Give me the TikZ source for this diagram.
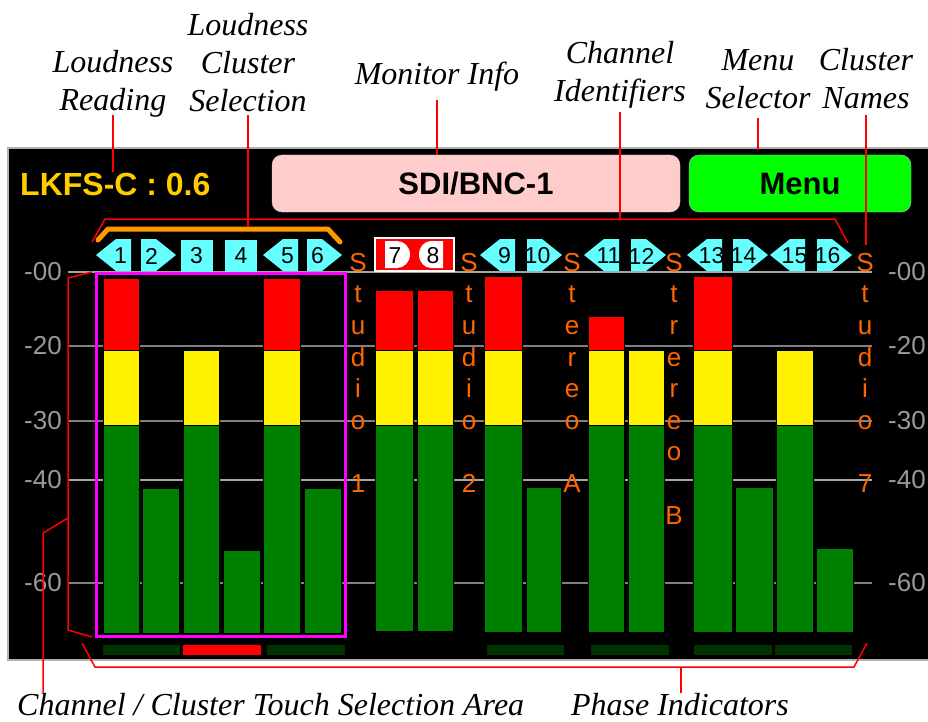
\documentclass[tikz,border=0pt]{standalone}
\usepackage{fontspec}
\setmainfont{Liberation Serif}
\setsansfont{Liberation Sans}
\usetikzlibrary{positioning}
\definecolor{lkfsyellow}{HTML}{FFCC00}
\definecolor{monpink}{HTML}{FFCCCC}
\definecolor{menugreen}{HTML}{00FF00}
\definecolor{chcyan}{HTML}{66FFFF}
\definecolor{clorange}{HTML}{FF6600}
\definecolor{brorange}{HTML}{FF9900}
\definecolor{mgreen}{HTML}{008000}
\definecolor{phgreen}{HTML}{003300}
\definecolor{scalegray}{HTML}{999999}
\definecolor{selmag}{HTML}{FF00FF}
\tikzset{
  note/.style={font=\fontsize{32}{38}\selectfont\itshape, align=center, inner sep=0pt},
  callout/.style={draw=red, line width=1.5pt},
  scr/.style={font=\sffamily\bfseries\fontsize{31}{31}\selectfont, inner sep=0pt},
  chnum/.style={font=\sffamily\fontsize{23}{23}\selectfont, inner sep=0pt},
  chbox/.style={chnum, fill=chcyan, minimum width=32pt, minimum height=32pt},
  clname/.style={text=clorange, font=\sffamily\fontsize{26}{31.6}\selectfont, align=center, inner sep=0pt, anchor=north},
  dbtick/.style={text=scalegray, font=\sffamily\fontsize{26}{26}\selectfont, inner sep=0pt},
  seg/.style={draw=black, line width=0.8pt},
  phase/.style={fill=phgreen},
}
\begin{document}
\begin{tikzpicture}[x=1pt, y=-1pt]
\useasboundingbox (0,0) rectangle (928,722);
% screen
\draw[fill=black, draw=gray!60, line width=1.5pt] (8,148) rectangle (929,660);
% level lines
\foreach \ly/\lc in {272/gray!70, 346/gray, 421/gray, 480/gray!70, 583/gray}
  \draw[\lc, line width=1.5pt] (68,\ly) -- (872,\ly);
\foreach \ly/\db in {272/-00, 346/-20, 421/-30, 480/-40, 583/-60} {
  \node[dbtick, anchor=east] (dbl\db) at (62,\ly) {\db};
  \node[dbtick, anchor=west] (dbr\db) at (888,\ly) {\db};
}
% meter bars
\foreach \xa/\xb/\yt/\yb in {103/139/278/633, 142/179/488/633, 183/219/350/633, 223/260/550/633,
    263/300/278/633, 304/341/488/633, 375/413/290/631, 417/453/290/631,
    484/522/276/632, 526/561/487/632, 588/624/316/632, 628/664/350/632,
    693/732/276/632, 735/773/487/632, 776/813/350/632, 816/853/548/632} {
  \ifdim\yt pt<350pt \draw[seg, fill=red] (\xa,\yt) rectangle (\xb,350); \fi
  \pgfmathsetmacro\ymid{max(\yt,350)}
  \ifdim\ymid pt<425pt \draw[seg, fill=yellow] (\xa,\ymid) rectangle (\xb,425); \fi
  \pgfmathsetmacro\ylow{max(\yt,425)}
  \draw[seg, fill=mgreen] (\xa,\ylow) rectangle (\xb,\yb);
}
\draw[selmag, line width=3pt] (96,273) rectangle (345,636);
% phase indicators
\foreach \xa/\xb in {103/180, 267/345, 487/564, 591/669, 694/772, 775/852}
  \fill[phase] (\xa,645) rectangle (\xb,655);
\fill[red] (183,645) rectangle (261,655);
% channel identifiers
\foreach \n/\x/\dir in {1/96/-1, 2/141/1, 5/263/-1, 6/307/1, 9/480/-1, 10/527/1,
    11/584/-1, 12/631/1, 13/687/-1, 14/733/1, 15/770/-1, 16/817/1} {
  \begin{scope}[shift={(\x+17.5,255)}, xscale=\dir]
    \fill[chcyan] (-17.5,-16) -- (-2.5,-16) -- (17.5,0) -- (-2.5,16) -- (-17.5,16) -- cycle;
  \end{scope}
  \node[chnum] (ch\n) at (\x+17.5-7*\dir,256) {\n};
}
\node[chbox] (ch3) at (196.5,256) {3};
\node[chbox] (ch4) at (241,256) {4};
\draw[fill=red, draw=white, line width=2pt] (375,238) rectangle (454,271);
\fill[white] (385,241) -- (397,241) arc[start angle=-90, end angle=90, x radius=13, y radius=13.5] -- (385,268) -- cycle;
\fill[white] (443,241) -- (431,241) arc[start angle=-90, end angle=-270, x radius=12, y radius=13.5] -- (443,268) -- cycle;
\node[chnum] (ch7) at (395,256) {7};
\node[chnum] (ch8) at (433,256) {8};
% cluster names
\node[clname] (stu1) at (358,253) {S\\t\\u\\d\\i\\o\\~\\1};
\node[clname] (stu2) at (469,253) {S\\t\\u\\d\\i\\o\\~\\2};
\node[clname] (stera) at (572,253) {S\\t\\e\\r\\e\\o\\~\\A};
\node[clname] (sterb) at (674,253) {S\\t\\r\\e\\r\\e\\o\\~\\B};
\node[clname] (stu7) at (865,253) {S\\t\\u\\d\\i\\o\\~\\7};
% cluster selection bracket
\draw[brorange, line width=5pt, line cap=round, line join=round] (98,240) -- (108,229) -- (328,229) -- (340,242);
% top widgets
\node[scr, text=lkfsyellow, anchor=base west, font=\sffamily\bfseries\fontsize{32}{32}\selectfont] (lkfs) at (20,195) {LKFS-C : 0.6};
\draw[fill=monpink, draw=gray!40, rounded corners=10pt] (272,155) rectangle (680,212);
\node[scr] (mon) at (476,184) {SDI/BNC-1};
\draw[fill=menugreen, draw=gray!50, rounded corners=10pt] (689,155) rectangle (911,212);
\node[scr] (menu) at (800,184) {Menu};
% callouts
\node[note, anchor=south] (rdlab) at (113,118) {Loudness\\Reading};
\draw[callout, shorten <=-3pt] (rdlab.south) -- (rdlab.south |- lkfs.north);
\coordinate (selpt) at (248,227);
\node[note, anchor=south] (sellab) at (248,112) {Loudness\\Cluster\\Selection};
\draw[callout, shorten <=3pt] (sellab.south) -- (selpt);
\node[note, anchor=south] (monlab) at (437,92) {Monitor Info};
\draw[callout, shorten <=8pt] (monlab.south) -- (monlab.south |- 0,155);
\coordinate (idb1) at (92,242);
\coordinate (idb2) at (105,219);
\coordinate (idb3) at (835,219);
\coordinate (idb4) at (848,243);
\draw[callout] (idb1) -- (idb2) -- (idb3) -- (idb4);
\node[note, anchor=south] (idlab) at (620,109) {Channel\\Identifiers};
\draw[callout, shorten <=3pt] (idlab.south) -- (idlab.south |- idb2);
\node[note, anchor=south] (msellab) at (758,109) {Menu\\Selector};
\draw[callout, shorten <=9pt] (msellab.south) -- (msellab.south |- 0,150);
\coordinate (cnpt) at (866,245);
\node[note, anchor=south] (cnlab) at (866,109) {Cluster\\Names};
\draw[callout, shorten <=6pt] (cnlab.south) -- (cnpt);
% touch area
\coordinate (tb1) at (92,272);
\coordinate (tb2) at (68,278);
\coordinate (tb3) at (68,630);
\coordinate (tb4) at (92,637);
\coordinate (tb5) at (68,518);
\coordinate (tb6) at (43,533);
\draw[callout] (tb1) -- (tb2) -- (tb3) -- (tb4);
\node[note, anchor=base west] (tchlab) at (17,715) {Channel / Cluster Touch Selection Area};
\draw[callout] (tb5) -- (tb6) -- (tchlab.north -| tb6);
% phase callout
\coordinate (pb1) at (82,643);
\coordinate (pb2) at (95,667);
\coordinate (pb3) at (854,667);
\coordinate (pb4) at (867,643);
\coordinate (pbm) at (681,667);
\draw[callout] (pb1) -- (pb2) -- (pb3) -- (pb4);
\node[note, anchor=base] (phlab) at (680,715) {Phase Indicators};
\draw[callout] (pbm) -- (phlab.north -| pbm);
\end{tikzpicture}
\end{document}
